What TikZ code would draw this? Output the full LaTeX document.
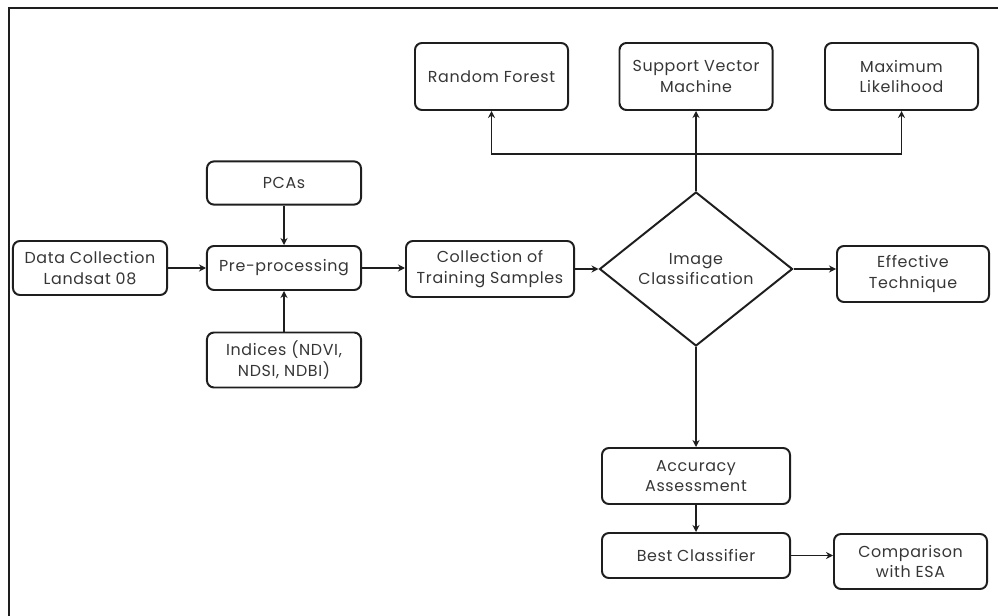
\documentclass[tikz,border=0pt]{standalone}
\usepackage{fontspec}
\setmainfont{Poppins}[LetterSpace=4]
\usepackage{xcolor}
\usetikzlibrary{arrows.meta,shapes.geometric}

\definecolor{inkline}{HTML}{1E1E1E}
\definecolor{inktext}{HTML}{363636}

\tikzset{
	stepbox/.style={draw=inkline, line width=1.4pt, rounded corners=5pt, align=center, text=inktext, inner sep=0pt, font=\fontsize{11.3}{14.5}\selectfont},
	decision/.style={draw=inkline, line width=1.4pt, diamond, align=center, text=inktext, inner sep=0pt, font=\fontsize{11.3}{14.5}\selectfont},
	flow/.style={draw=inkline, line width=1.3pt, -{Stealth[length=5pt,width=5pt]}}
}

\begin{document}
\begin{tikzpicture}[x=0.025cm, y=-0.025cm]
			\useasboundingbox (0,0) rectangle (998,616);
			\draw [inkline, line width=1.3pt] (9,616) -- (9,8) -- (998,8);

			\node[stepbox, minimum width=3.85cm, minimum height=1.35cm] (data) at (90,268) {Data Collection\\Landsat 08};
			\node[stepbox, minimum width=3.85cm, minimum height=1.08cm] (pca) at (284,183) {PCAs};
			\node[stepbox, minimum width=3.85cm, minimum height=1.1cm] (pre) at (284,268) {Pre-processing};
			\node[stepbox, minimum width=3.85cm, minimum height=1.375cm] (ind) at (284,360) {Indices (NDVI,\\NDSI, NDBI)};
			\node[stepbox, minimum width=4.2cm, minimum height=1.4cm] (train) at (490,269) {Collection of\\Training Samples};
			\node[decision, minimum width=4.825cm, minimum height=3.85cm] (classify) at (696,269) {Image\\Classification};
			\node[stepbox, minimum width=3.825cm, minimum height=1.675cm] (rf) at (491.5,76.5) {Random Forest};
			\node[stepbox, minimum width=3.825cm, minimum height=1.675cm] (svm) at (696,76.5) {Support Vector\\Machine};
			\node[stepbox, minimum width=3.825cm, minimum height=1.675cm] (ml) at (901.5,76.5) {Maximum\\Likelihood};
			\node[stepbox, minimum width=3.8cm, minimum height=1.4cm] (eff) at (913,274) {Effective\\Technique};
			\node[stepbox, minimum width=4.7cm, minimum height=1.4cm] (acc) at (696,476) {Accuracy\\Assessment};
			\node[stepbox, minimum width=4.7cm, minimum height=1.125cm] (best) at (696,555.5) {Best Classifier};
			\node[stepbox, minimum width=3.825cm, minimum height=1.375cm] (comp) at (910.5,561.5) {Comparison\\with ESA};
			\coordinate (fork) at (696,154);

			\draw [flow] (data) -- (pre);
			\draw [flow] (pca) -- (pre);
			\draw [flow] (ind) -- (pre);
			\draw [flow] (pre.east) -- (pre.east -| train.west);
			\draw [flow] (train.east) -- (classify.west);
			\draw [flow] (classify.east) -- (classify.east -| eff.west);
			\draw [flow] (classify.north) -- (svm.south);
			\draw [flow] (fork) -| (rf.south);
			\draw [flow] (fork) -| (ml.south);
			\draw [flow] (classify.south) -- (acc.north);
			\draw [flow] (acc) -- (best);
			\draw [flow] (best.east) -- (best.east -| comp.west);
		\end{tikzpicture}
\end{document}
